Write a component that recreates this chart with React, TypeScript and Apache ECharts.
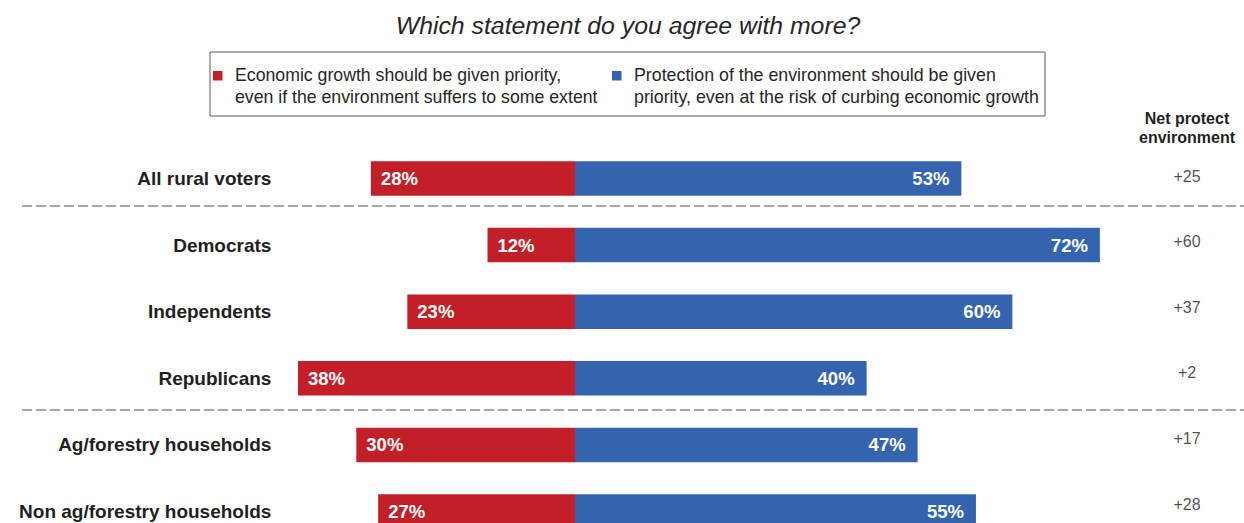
import React, { useEffect, useRef } from 'react';
import * as echarts from 'echarts';

const titleText = 'Which statement do you agree with more?';
const categories = [
  'All rural voters',
  'Democrats',
  'Independents',
  'Republicans',
  'Ag/forestry households',
  'Non ag/forestry households',
];
const economyFirst = [28, 12, 23, 38, 30, 27];
const environmentFirst = [53, 72, 60, 40, 47, 55];
const netProtect = ['+25', '+60', '+37', '+2', '+17', '+28'];
const seriesNames = [
  'Economic growth should be given priority,\neven if the environment suffers to some extent',
  'Protection of the environment should be given\npriority, even at the risk of curbing economic growth',
];
const netHeader = 'Net protect\nenvironment';

const RED = '#C21F28';
const BLUE = '#3464B0';
const FONT = '"Liberation Sans", Arial, sans-serif';

export default function App() {
  const ref = useRef<HTMLDivElement>(null);
  useEffect(() => {
    if (!ref.current) return;
    const chart = echarts.init(ref.current, undefined, { renderer: 'svg' });
    const dash = (y: number) => ({
      type: 'line',
      shape: { x1: 22, y1: y, x2: 1244, y2: y },
      style: { stroke: '#A6A6A6', lineWidth: 2, lineDash: [10, 4] },
      silent: true,
    });
    chart.setOption({
      animation: false,
      textStyle: { fontFamily: FONT },
      title: {
        text: titleText,
        left: 623,
        top: 8,
        textAlign: 'center',
        textStyle: { fontStyle: 'italic', fontWeight: 'normal', fontSize: 24.8, color: '#262626', fontFamily: FONT },
      },
      grid: [
        { left: 283.4, width: 947.7, top: 145.2, height: 399.6 },
        { left: 1150, width: 74, top: 143.2, height: 393.6 },
      ],
      xAxis: [
        { type: 'value', min: -40, max: 90, show: false, gridIndex: 0 },
        { type: 'value', min: 0, max: 1, show: false, gridIndex: 1 },
      ],
      yAxis: [
        {
          type: 'category',
          data: categories,
          inverse: true,
          gridIndex: 0,
          axisLine: { show: false },
          axisTick: { show: false },
          splitLine: { show: false },
          axisLabel: { fontSize: 19, fontWeight: 'bold', color: '#1F1F1F', margin: 12, fontFamily: FONT },
        },
        {
          type: 'category',
          data: categories,
          inverse: true,
          gridIndex: 1,
          show: false,
        },
      ],
      series: [
        {
          name: seriesNames[0],
          type: 'bar',
          stack: 'total',
          barWidth: 34.5,
          data: economyFirst.map((v) => -v),
          itemStyle: { color: RED },
          label: {
            show: true,
            position: 'insideLeft',
            distance: 10,
            formatter: (p: any) => Math.abs(p.value) + '%',
            color: '#fff',
            fontWeight: 'bold',
            fontSize: 18.5,
            fontFamily: FONT,
          },
        },
        {
          name: seriesNames[1],
          type: 'bar',
          stack: 'total',
          barWidth: 34.5,
          data: environmentFirst,
          itemStyle: { color: BLUE },
          label: {
            show: true,
            position: 'insideRight',
            distance: 12,
            formatter: (p: any) => p.value + '%',
            color: '#fff',
            fontWeight: 'bold',
            fontSize: 18.5,
            fontFamily: FONT,
          },
        },
        {
          name: 'Net protect environment',
          type: 'scatter',
          xAxisIndex: 1,
          yAxisIndex: 1,
          symbolSize: 0.1,
          itemStyle: { color: 'transparent' },
          data: netProtect.map((_, i) => [0.5, i]),
          label: {
            show: true,
            position: 'inside',
            formatter: (p: any) => netProtect[p.dataIndex],
            color: '#1F1F1F',
            fontSize: 16,
            fontFamily: FONT,
          },
        },
      ],
      graphic: [
        {
          type: 'rect',
          shape: { x: 210, y: 52, width: 835, height: 64 },
          style: { fill: '#fff', stroke: '#595959', lineWidth: 1 },
          silent: true,
        },
        { type: 'rect', shape: { x: 213, y: 71, width: 9.5, height: 9.5 }, style: { fill: RED } },
        { type: 'rect', shape: { x: 612, y: 71, width: 9.5, height: 9.5 }, style: { fill: BLUE } },
        {
          type: 'text',
          x: 235,
          y: 64,
          style: {
            text: seriesNames[0],
            font: `17.7px ${FONT}`,
            lineHeight: 22,
            fill: '#262626',
            verticalAlign: 'top',
            align: 'left',
          },
        },
        {
          type: 'text',
          x: 634,
          y: 64,
          style: {
            text: seriesNames[1],
            font: `17.8px ${FONT}`,
            lineHeight: 22,
            fill: '#262626',
            verticalAlign: 'top',
            align: 'left',
          },
        },
        {
          type: 'text',
          x: 1187,
          y: 108.5,
          style: {
            text: netHeader,
            font: `bold 16px ${FONT}`,
            lineHeight: 19,
            fill: '#1F1F1F',
            verticalAlign: 'top',
            align: 'center',
          },
        },
        dash(206),
        dash(410),
      ],
    });
    return () => chart.dispose();
  }, []);
  return (
    <div
      ref={ref}
      style={{ position: 'fixed', left: 0, top: 0, width: 1244, height: 570, background: '#fff' }}
    />
  );
}
